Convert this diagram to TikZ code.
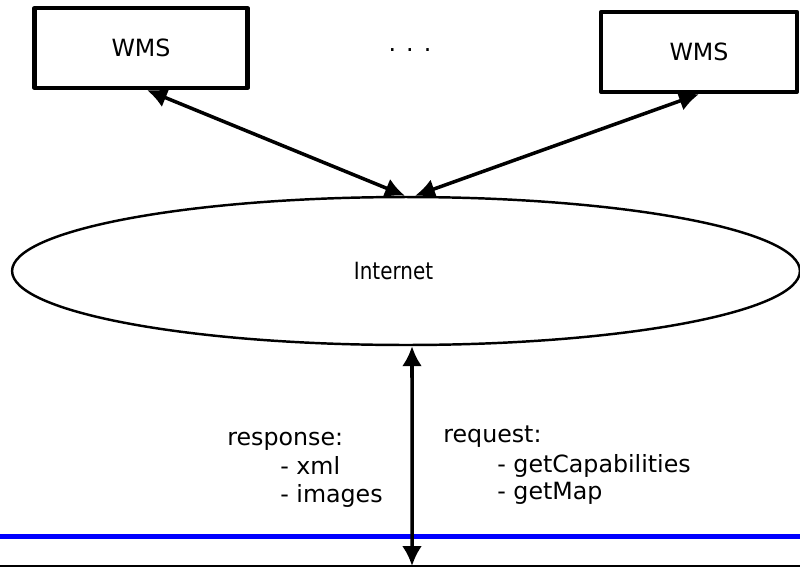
\documentclass[tikz,border=0pt]{standalone}
\usepackage{fontspec}
\setmainfont{DejaVu Sans}
\newfontfamily\narrowfont[FakeStretch=0.84]{DejaVu Sans}
\usetikzlibrary{arrows.meta,shapes.geometric}

\tikzset{
  server/.style={draw, line width=2.4pt, fill=white, minimum height=1.6cm, font=\fontsize{13.5}{16}\selectfont},
  link/.style={line width=2pt, {Latex[length=4mm,width=4mm]}-{Latex[length=4mm,width=4mm]}},
  lbl/.style={anchor=base west, inner sep=0pt, font=\fontsize{13.5}{16}\selectfont}
}

\begin{document}
\begin{tikzpicture}[line cap=round,line join=round,x=0.02cm,y=-0.02cm]
  \useasboundingbox (0,0) rectangle (800,568);

  % servers
  \node[server, minimum width=4.26cm] (wmsL) at (141,48) {WMS};
  \node[server, minimum width=3.92cm] (wmsR) at (699,52) {WMS};
  \node[font=\fontsize{13.5}{16}\selectfont] (dots) at (410,50) {. . .};

  % network
  \node[draw, ellipse, line width=1.4pt, minimum width=15.76cm, minimum height=2.96cm,
        font=\narrowfont\fontsize{13.5}{16}\selectfont] (inet) at (406,271) {Internet\hspace*{0.5cm}};

  % client side
  \coordinate (bl) at (0,536);
  \coordinate (br) at (800,536);
  \coordinate (cl) at (0,566);
  \coordinate (cr) at (800,566);
  \coordinate (client) at (412,566);

  \draw[blue, line width=1mm, line cap=butt] (bl) -- (br);
  \draw[line width=1.1pt, line cap=butt] (cl) -- (cr);

  \draw[link] ([xshift=0.12cm]wmsL.south) -- ([xshift=-0.02cm]inet.north);
  \draw[link] (wmsR.south) -- ([xshift=0.18cm]inet.north);
  \draw[link] ([xshift=0.12cm]inet.south) -- (client);

  % messages
  \node[lbl] (resp) at (227,445) {response:};
  \node[lbl] (xml) at (280,474) {- xml};
  \node[lbl] (img) at (280,502) {- images};
  \node[lbl] (req) at (443,442) {request:};
  \node[lbl] (caps) at (497,472) {- getCapabilities};
  \node[lbl] (map) at (497,499) {- getMap};
\end{tikzpicture}
\end{document}
